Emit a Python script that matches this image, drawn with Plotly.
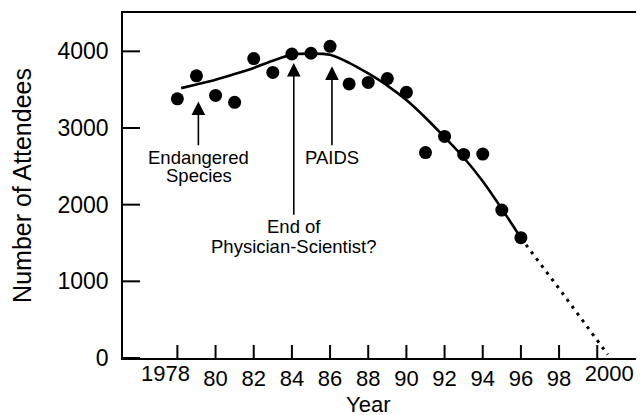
import plotly.graph_objects as go

# Data
years = list(range(1978, 1997))
attendees = [3380, 3680, 3425, 3335, 3905, 3725, 3965, 3975, 4065, 3575,
             3595, 3645, 3465, 2680, 2890, 2655, 2660, 1930, 1570]

trend_years = [1978.2, 1979, 1980, 1981, 1982, 1983, 1984, 1985, 1986, 1987,
               1988, 1989, 1990, 1991, 1992, 1993, 1994, 1995, 1996]
trend_vals = [3520, 3568, 3630, 3704, 3783, 3878, 3957, 3970, 3955, 3850,
              3711, 3553, 3365, 3134, 2880, 2615, 2305, 1945, 1565]

proj_years = [1996, 1998, 2000.55]
proj_vals = [1565, 905, 45]

tick_years = [1978, 1980, 1982, 1984, 1986, 1988, 1990, 1992, 1994, 1996, 1998, 2000]
tick_labels = ["1978", "80", "82", "84", "86", "88", "90", "92", "94", "96", "98", "2000"]
y_ticks = [0, 1000, 2000, 3000, 4000]

# arrows with their first label line: (text, x, label value, tip value)
arrow_labels = [("Endangered", 1979.1, 2619, 3346),
                ("End of", 1984.1, 1711, 3848),
                ("PAIDS", 1986.1, 2619, 3804)]
# second label lines: (text, x, value)
extra_labels = [("Species", 1979.15, 2374), ("Physician-Scientist?", 1984.1, 1449)]

FONT = "Liberation Sans, Arial, Helvetica, sans-serif"
XRANGE = [1975.15, 2002.45]
YRANGE = [0, 4500]
# plot area size in px (for inward tick lengths)
PLOT_W, PLOT_H = 521, 345
XTICK_LEN = 13 * (YRANGE[1] - YRANGE[0]) / PLOT_H
YTICK_LEN = 17 * (XRANGE[1] - XRANGE[0]) / PLOT_W

fig = go.Figure()
fig.add_trace(go.Scatter(x=trend_years, y=trend_vals, mode="lines",
                         line=dict(color="black", width=2.6, shape="spline", smoothing=0.8),
                         hoverinfo="skip"))
fig.add_trace(go.Scatter(x=proj_years, y=proj_vals, mode="lines",
                         line=dict(color="black", width=3, dash="3px,5.5px"),
                         hoverinfo="skip"))
fig.add_trace(go.Scatter(x=years, y=attendees, mode="markers",
                         marker=dict(color="black", size=13)))

# inward tick marks drawn as line traces
tx, tyv = [], []
for t in tick_years:
    tx += [t, t, None]
    tyv += [YRANGE[0], YRANGE[0] + XTICK_LEN, None]
fig.add_trace(go.Scatter(x=tx, y=tyv, mode="lines", connectgaps=False,
                         line=dict(color="black", width=2), hoverinfo="skip"))
sx, sy = [], []
for v in y_ticks:
    sx += [XRANGE[0], XRANGE[0] + YTICK_LEN, None]
    sy += [v, v, None]
fig.add_trace(go.Scatter(x=sx, y=sy, mode="lines", connectgaps=False,
                         line=dict(color="black", width=2), hoverinfo="skip"))

# empty traces so the overlaid label axes are drawn
fig.add_trace(go.Scatter(x=[], y=[], xaxis="x2", hoverinfo="skip"))
fig.add_trace(go.Scatter(x=[], y=[], xaxis="x3", hoverinfo="skip"))

for t, x, yl, tip in arrow_labels:
    fig.add_annotation(x=x, y=tip, ax=x, ay=yl, xref="x", yref="y",
                       axref="x", ayref="y", text=t, showarrow=True,
                       arrowhead=2, arrowsize=1.7, arrowwidth=1.6, arrowcolor="black",
                       font=dict(family=FONT, size=18.5, color="black"))

for t, x, y in extra_labels:
    fig.add_annotation(x=x, y=y, xref="x", yref="y", text=t, showarrow=False,
                       xanchor="center", yanchor="middle",
                       font=dict(family=FONT, size=18.5, color="black"))

fig.add_annotation(x=1988.0, y=-0.135, xref="x", yref="paper", text="Year",
                   showarrow=False, xanchor="center", yanchor="middle",
                   font=dict(family=FONT, size=22, color="black"))
fig.add_annotation(x=-0.195, y=0.5, xref="paper", yref="paper",
                   text="Number of Attendees", textangle=-90, showarrow=False,
                   xanchor="center", yanchor="middle",
                   font=dict(family=FONT, size=25, color="black"))

tickfont_x = dict(family=FONT, size=22, color="black")
common_x = dict(range=XRANGE, tickangle=0, automargin=False, tickmode="array",
                ticks="", showgrid=False, zeroline=False, tickfont=tickfont_x)

# The page body has an 8px margin, so the figure is drawn 8px in and down
fig.update_layout(
    width=636, height=407,
    margin=dict(l=115, r=0, t=5, b=57, autoexpand=False),
    paper_bgcolor="white", plot_bgcolor="white",
    showlegend=False,
    font=dict(family=FONT, color="black"),
    xaxis=dict(tickvals=tick_years[1:-1], ticktext=tick_labels[1:-1],
               showline=True, linecolor="black", linewidth=1.5, mirror=True,
               **common_x),
    xaxis2=dict(tickvals=tick_years[:1], ticktext=tick_labels[:1], overlaying="x",
                anchor="y", side="bottom", showline=False, ticklabelshift=-12,
                **common_x),
    xaxis3=dict(tickvals=tick_years[-1:], ticktext=tick_labels[-1:], overlaying="x",
                anchor="y", side="bottom", showline=False, ticklabelshift=12,
                **common_x),
    yaxis=dict(range=YRANGE, tickvals=y_ticks, automargin=False, tickmode="array",
               ticks="", showline=True, linecolor="black", linewidth=1.5,
               showgrid=False, zeroline=False, ticklabelstandoff=8,
               tickfont=dict(family=FONT, size=23, color="black")),
)

fig.write_html("out.html")
